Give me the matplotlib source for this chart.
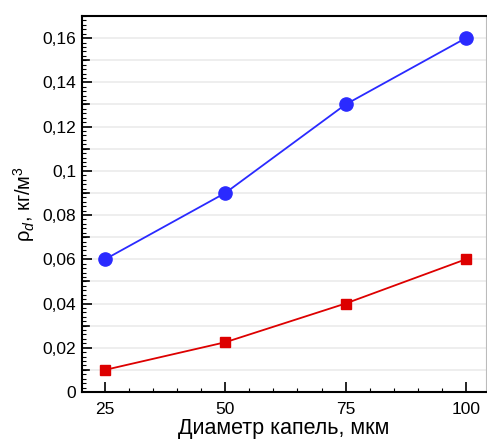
import numpy as np
import matplotlib
matplotlib.use('Agg')
import matplotlib.pyplot as plt
from matplotlib.ticker import MultipleLocator, FuncFormatter

plt.rcParams['font.family'] = ['Liberation Sans', 'DejaVu Sans']
plt.rcParams['mathtext.fontset'] = 'custom'
plt.rcParams['mathtext.rm'] = 'Liberation Sans'
plt.rcParams['mathtext.it'] = 'Liberation Sans:italic'

diam = [25, 50, 75, 100]  # мкм
rho_blue = [0.06, 0.09, 0.13, 0.16]
rho_red = [0.01, 0.0225, 0.04, 0.06]

fig = plt.figure(figsize=(4.87, 4.4), dpi=100)
ax = fig.add_axes([82/487, 48/440, 404/487, 376/440])

ax.plot(diam, rho_blue, color='#2a2aff', lw=1.3, marker='o', ms=9.5, zorder=3)
ax.plot(diam, rho_red, color='#dd0000', lw=1.3, marker='s', ms=7, zorder=3)

ax.set_xlim(20.2, 104.2)
ax.set_ylim(0, 0.17)

ax.xaxis.set_major_locator(MultipleLocator(25))
ax.xaxis.set_minor_locator(MultipleLocator(5))
ax.yaxis.set_major_locator(MultipleLocator(0.02))
ax.yaxis.set_minor_locator(MultipleLocator(0.002))

# сетка через 0.01
for yv in np.arange(0.01, 0.17, 0.01):
    ax.axhline(yv, color='#ebebeb', lw=1.2, zorder=0)
for yv in np.arange(0.01, 0.17, 0.02):
    ax.plot([20.2, 21.6], [yv, yv], color='black', lw=1.2, zorder=2, clip_on=False)

fmt = FuncFormatter(lambda v, p: ('%g' % round(v, 4)).replace('.', ','))
ax.yaxis.set_major_formatter(fmt)

ax.tick_params(which='major', direction='in', length=7, width=1.2, labelsize=12.5,
               top=False, right=False)
ax.tick_params(which='minor', direction='in', length=3, width=0.8, top=False, right=False)
ax.tick_params(axis='x', pad=7)
ax.tick_params(axis='y', pad=4)

for s in ax.spines.values():
    s.set_linewidth(1.5)
ax.spines['right'].set_linewidth(0.8)
ax.spines['right'].set_color('#bbbbbb')

ax.set_xlabel('Диаметр капель, мкм', fontsize=15.5, labelpad=1)
ax.set_ylabel('ρ$_d$, кг/м$^3$', fontsize=14.5, labelpad=4)

plt.savefig('out.png', dpi=100)
